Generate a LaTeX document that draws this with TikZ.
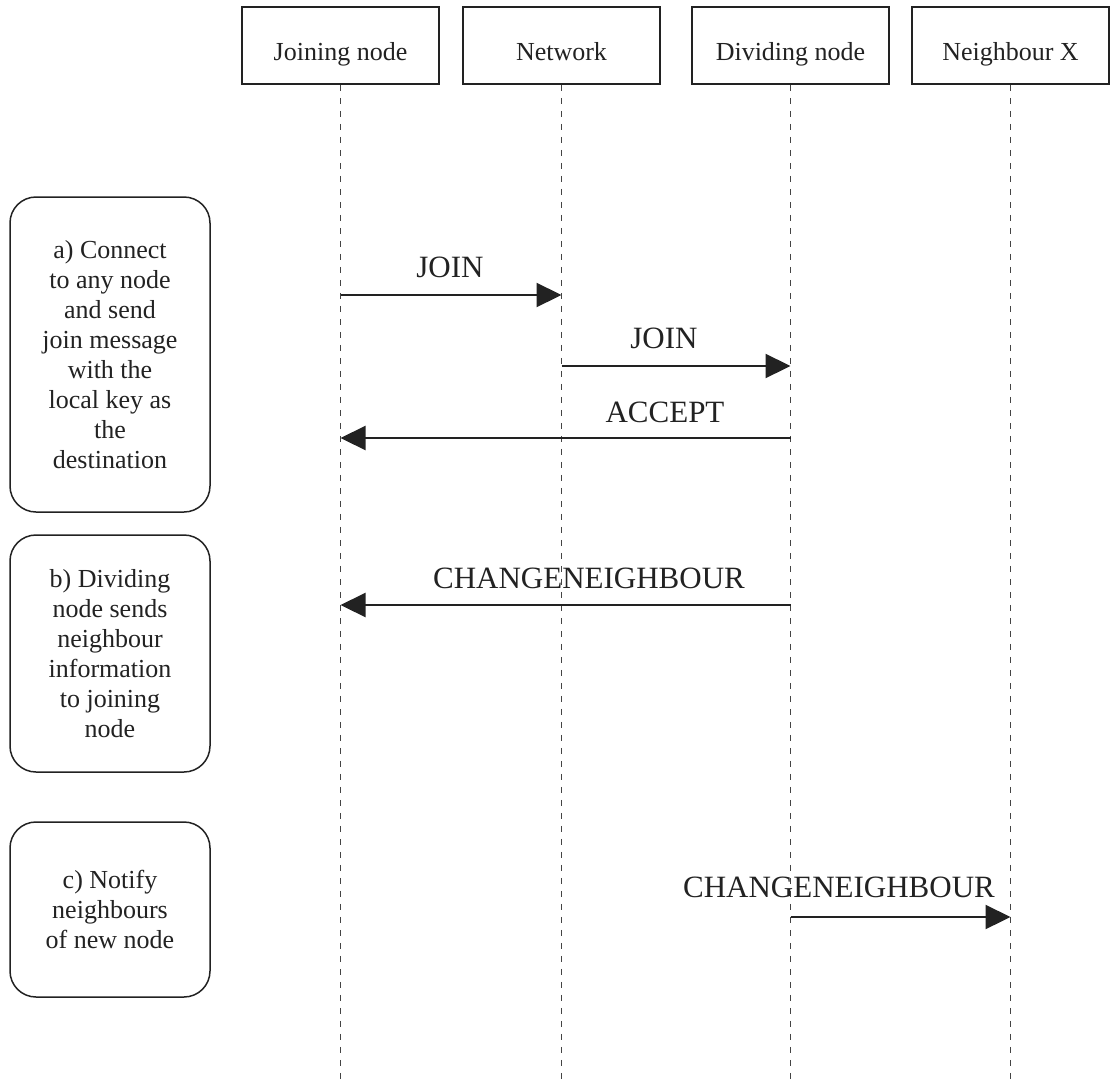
\documentclass[tikz,border=0pt]{standalone}
\usepackage{fontspec}
\setmainfont{Liberation Serif}
\usetikzlibrary{arrows.meta}
\definecolor{ink}{HTML}{222222}
\definecolor{life}{HTML}{444444}
\begin{document}
\begin{tikzpicture}[x=1pt,y=-1pt,
  hdr/.style={draw=ink,line width=1.5pt,minimum width=197pt,minimum height=77pt,inner sep=0pt,
    text height=29pt,text depth=0pt,
    font=\fontsize{26}{30}\selectfont,text=ink},
  phase/.style={draw=ink,line width=1.5pt,rounded corners=26pt,minimum width=200pt,inner sep=0pt,
    align=center,font=\fontsize{26}{30}\selectfont,text=ink},
  lifeline/.style={draw=life,line width=1.3pt,dash pattern=on 6pt off 7pt},
  msg/.style={draw=ink,line width=2.2pt,-{Triangle[length=25pt,width=24pt]}},
  msglabel/.style={anchor=base,inner sep=0pt,font=\fontsize{31}{36}\selectfont,text=ink}]
\useasboundingbox (0,0) rectangle (1110,1084);
% headers
\node[hdr] (jn) at (340.5,45.5) {Joining node};
\node[hdr] (nw) at (561.5,45.5) {Network};
\node[hdr] (dn) at (790.5,45.5) {Dividing node};
\node[hdr] (nx) at (1010.5,45.5) {Neighbour X};
% lifeline ends
\coordinate (jnE) at (jn.south |- 0,1084);
\coordinate (nwE) at (nw.south |- 0,1084);
\coordinate (dnE) at (dn.south |- 0,1084);
\coordinate (nxE) at (nx.south |- 0,1084);
\draw[lifeline] (jn.south) -- (jnE);
\draw[lifeline] (nw.south) -- (nwE);
\draw[lifeline] (dn.south) -- (dnE);
\draw[lifeline] (nx.south) -- (nxE);
% phase boxes
\node[phase,minimum height=315pt] (pa) at (110,354.5) {a) Connect\\to any node\\and send\\join message\\with the\\local key as\\the\\destination};
\node[phase,minimum height=237pt] (pb) at (110,653.5) {b) Dividing\\node sends\\neighbour\\information\\to joining\\node};
\node[phase,minimum height=175pt] (pc) at (110,909.5) {c) Notify\\neighbours\\of new node};
% message points
\coordinate (m1s) at (jn.south |- 0,295);
\coordinate (m1e) at (nw.south |- 0,295);
\coordinate (m2s) at (nw.south |- 0,366);
\coordinate (m2e) at (dn.south |- 0,366);
\coordinate (m3s) at (dn.south |- 0,438);
\coordinate (m3e) at (jn.south |- 0,438);
\coordinate (m4s) at (dn.south |- 0,605);
\coordinate (m4e) at (jn.south |- 0,605);
\coordinate (m5s) at (dn.south |- 0,917);
\coordinate (m5e) at (nx.south |- 0,917);
\draw[msg] (m1s) -- (m1e);
\draw[msg] (m2s) -- (m2e);
\draw[msg] (m3s) -- (m3e);
\draw[msg] (m4s) -- (m4e);
\draw[msg] (m5s) -- (m5e);
% labels
\node[msglabel] (l1) at (450,277.5) {JOIN};
\node[msglabel] (l2) at (664,348.5) {JOIN};
\node[msglabel] (l3) at (665,422.5) {ACCEPT};
\node[msglabel] (l4) at (589,588) {CHANGENEIGHBOUR};
\node[msglabel] (l5) at (839,897.5) {CHANGENEIGHBOUR};
\end{tikzpicture}
\end{document}
